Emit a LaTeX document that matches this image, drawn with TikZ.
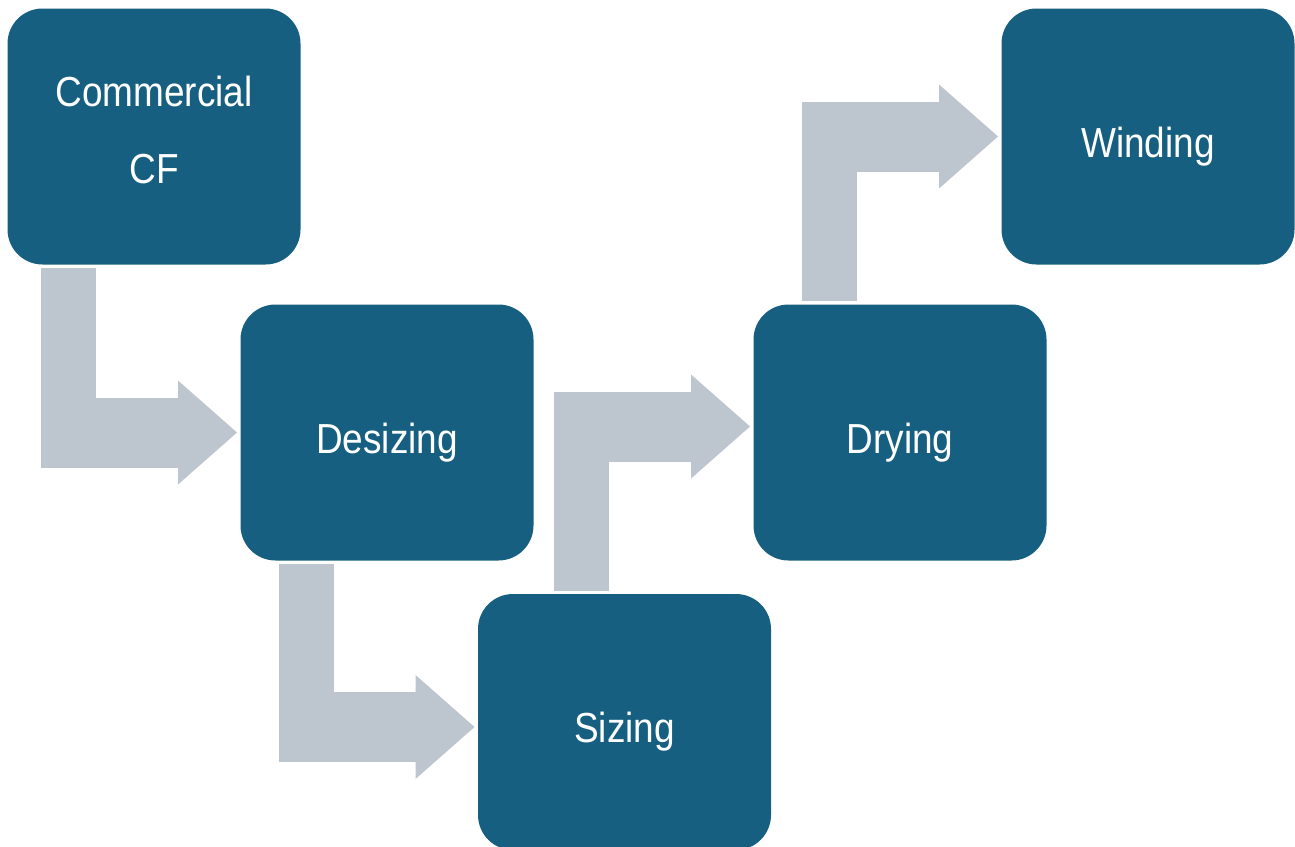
\documentclass[tikz,border=0pt]{standalone}
\usepackage{fontspec}
\setmainfont{Liberation Sans}[FakeStretch=0.88]

\definecolor{stageblue}{RGB}{23,95,128}
\definecolor{arrowgray}{RGB}{189,197,206}

\tikzset{
  stage/.style={rectangle, rounded corners=17.5pt, fill=stageblue, text=white,
    minimum width=146.5pt, minimum height=128pt, inner sep=0pt, outer sep=1.75pt,
    align=center, font=\fontsize{21}{38.5}\selectfont},
  oneline/.style={stage, text height=20.5pt, text depth=0pt},
}

% bent block arrow: #1 = where it leaves, #2 = where its tip lands
\newcommand{\bentarrow}[2]{%
  \begin{scope}[shift={(#2)}]
    \fill[arrowgray] (-196,0 |- #1) rectangle (-141,0);
    \fill[arrowgray] (-196,-35) rectangle (-59,35);
    \fill[arrowgray] (-59,-52) -- (0,0) -- (-59,52) -- cycle;
  \end{scope}}

\begin{document}
\begin{tikzpicture}[x=0.5pt, y=-0.5pt]
  \useasboundingbox (0,0) rectangle (1295,846);
  \clip (0,0) rectangle (1295,846);

  % Stages
  \node[stage, text depth=7pt] (cf) at (154,136.5) {Commercial\\CF};
  \node[oneline] (desizing) at (387,432.5) {Desizing};
  \node[oneline] (sizing) at (624.5,722) {Sizing};
  \node[oneline] (drying) at (900,432.5) {Drying};
  \node[oneline] (winding) at (1148,136.5) {Winding};

  % Arrows
  \bentarrow{cf.south}{desizing.west}
  \bentarrow{desizing.south}{[yshift=-2.5pt]sizing.west}
  \bentarrow{sizing.north}{[yshift=3pt]drying.west}
  \bentarrow{drying.north}{winding.west}
\end{tikzpicture}
\end{document}
